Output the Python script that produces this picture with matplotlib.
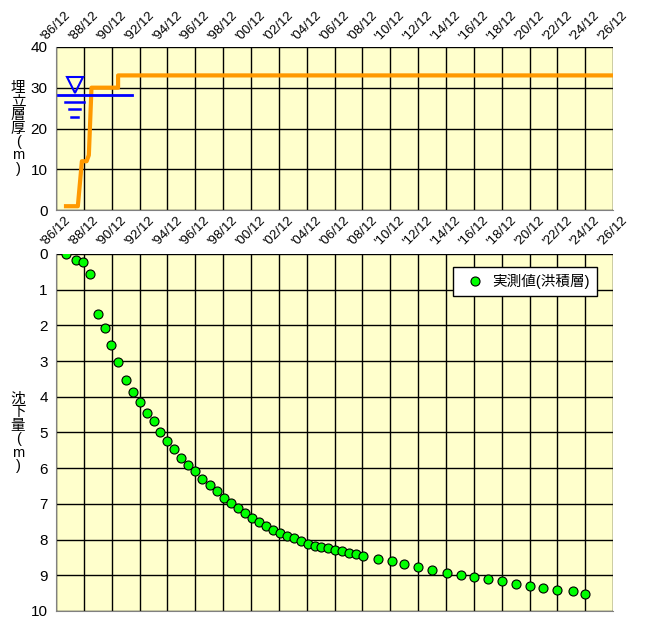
import matplotlib
matplotlib.use("Agg")
import matplotlib.pyplot as plt

plt.rcParams['font.family'] = ['Liberation Sans', 'Noto Sans CJK JP', 'DejaVu Sans']

BG = "#FFFFCC"
ORANGE = "#FF9900"

# years since '86/12
fill_t = [0.72, 1.57, 1.86, 2.2, 2.36, 2.55, 4.46, 4.46, 40.0]
fill_v = [1, 1, 12, 12, 13.5, 30, 30, 33, 33]

sett_t = [0.72, 1.47, 1.95, 2.46, 2.99, 3.49, 3.98, 4.48, 5.01, 5.52, 6.0, 6.51,
          7.01, 7.47, 8.0, 8.48, 8.99, 9.47, 9.98, 10.51, 11.06, 11.57, 12.07,
          12.58, 13.08, 13.59, 14.1, 14.6, 15.08, 15.59, 16.07, 16.58, 17.08,
          17.59, 18.1, 18.58, 19.04, 19.54, 20.02, 20.53, 21.04, 21.54, 22.05,
          23.1, 24.1, 25.0, 26.0, 27.0, 28.1, 29.1, 30.0, 31.0, 32.0, 33.0,
          34.0, 35.0, 36.0, 37.1, 38.0]
sett_v = [0.01, 0.18, 0.22, 0.56, 1.68, 2.08, 2.56, 3.03, 3.54, 3.87, 4.16, 4.45,
          4.69, 5.0, 5.25, 5.47, 5.72, 5.92, 6.09, 6.31, 6.48, 6.65, 6.85,
          6.99, 7.13, 7.27, 7.41, 7.52, 7.63, 7.72, 7.81, 7.89, 7.97,
          8.05, 8.12, 8.17, 8.21, 8.25, 8.28, 8.33, 8.39, 8.41, 8.45,
          8.55, 8.6, 8.68, 8.77, 8.85, 8.93, 9.0, 9.05, 9.1, 9.16, 9.25,
          9.3, 9.35, 9.42, 9.45, 9.52]

tick_pos = list(range(0, 41, 2))
tick_lab = [f"'{(86 + p) % 100:02d}/12" for p in tick_pos]

water_level = 28.3

fig = plt.figure(figsize=(6.57, 6.24), dpi=100)
ax1 = fig.add_axes([0.0852, 0.663, 0.848, 0.262])
ax2 = fig.add_axes([0.0852, 0.021, 0.848, 0.572])

for ax in (ax1, ax2):
    ax.set_facecolor(BG)
    ax.set_xlim(0, 40)
    ax.set_xticks(tick_pos)
    ax.grid(True, color="black", linewidth=1)
    ax.set_axisbelow(True)
    for s in ("top", "right"):
        ax.spines[s].set_visible(False)
    for s in ("left", "bottom"):
        ax.spines[s].set_color("#808080")
    ax.tick_params(length=0, labelsize=11, pad=6)

# top panel
ax1.set_ylim(0, 40)
ax1.set_yticks([0, 10, 20, 30, 40])
ax1.set_xticklabels(tick_lab)
ax1.tick_params(axis="x", labeltop=True, labelbottom=True, pad=3)
for t in ax1.xaxis.get_major_ticks():
    for lab in (t.label1, t.label2):
        lab.set_rotation(45)
        lab.set_ha("center")
        lab.set_fontsize(9.5)
    t.label2.set_va("bottom")
    t.label1.set_va("top")
ax1.plot(fill_t, fill_v, color=ORANGE, linewidth=3)
ax1.plot([0.12, 5.45], [water_level, water_level], color="blue", linewidth=2)
ax1.plot([1.33], [30.6], marker="v", markersize=11, markerfacecolor="none",
         markeredgecolor="blue", markeredgewidth=1.5, linestyle="none")
ax1.plot([0.68, 2.0], [26.4, 26.4], color="blue", linewidth=1.8)
ax1.plot([0.92, 1.76], [24.7, 24.7], color="blue", linewidth=1.8)
ax1.plot([1.1, 1.59], [22.9, 22.9], color="blue", linewidth=1.8)
ax1.text(-0.068, 0.5, "埋\n立\n層\n厚\n(\nm\n)", transform=ax1.transAxes,
         ha="center", va="center", fontsize=10.5, linespacing=0.95)

# bottom panel
ax2.set_ylim(10, 0)
ax2.set_yticks(range(0, 11))
ax2.set_xticklabels([])
ax2.plot(sett_t, sett_v, "o", color="#00FF00", markeredgecolor="black",
         markeredgewidth=0.8, markersize=6.5, label="実測値(洪積層)")
leg = ax2.legend(loc="upper right", bbox_to_anchor=(0.985, 0.985), fontsize=10.5,
                 frameon=True, fancybox=False, edgecolor="black",
                 handletextpad=0.2, borderpad=0.5)
leg.get_frame().set_facecolor("white")
leg.get_frame().set_alpha(1)
ax2.text(-0.068, 0.5, "沈\n下\n量\n(\nm\n)", transform=ax2.transAxes,
         ha="center", va="center", fontsize=10.5, linespacing=0.95)

fig.savefig("out.png", dpi=100)
